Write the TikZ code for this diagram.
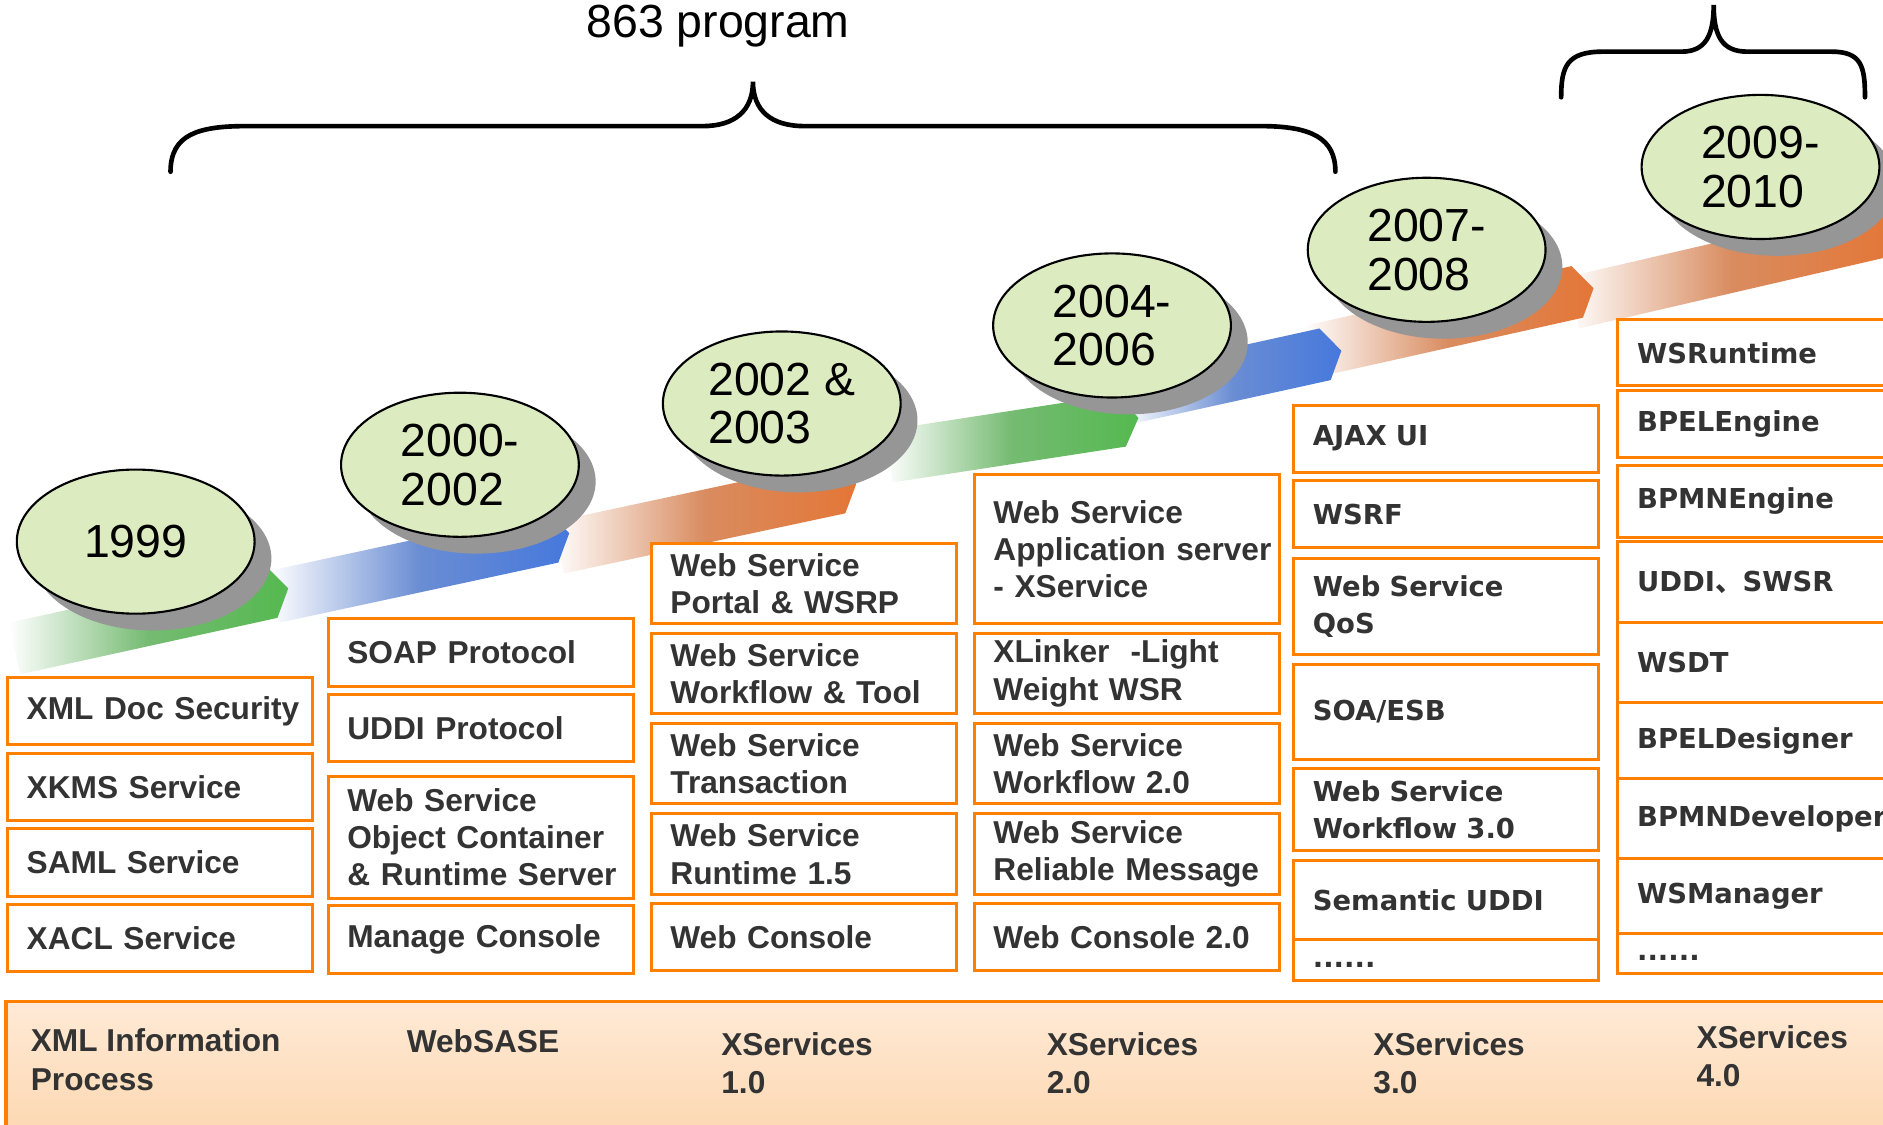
\documentclass[tikz,border=0pt]{standalone}
\usepackage{fontspec}
\setmainfont{Liberation Sans}
\newfontfamily\verdanafont{DejaVu Sans}
\newfontfamily\cjkfont{Noto Sans CJK SC}
\usepackage{tikz}
\usetikzlibrary{
    positioning,
    calc,
    shapes.geometric,
    shadows
}
\definecolor{boxOrange}{RGB}{255, 128, 0}
\definecolor{textGray}{RGB}{51, 51, 51}
\definecolor{yearGreen}{RGB}{221, 235, 192}
\definecolor{shadowGray}{RGB}{150, 150, 150}
\definecolor{ribGreen}{RGB}{85, 185, 80}
\definecolor{ribBlue}{RGB}{70, 120, 220}
\definecolor{ribOrange}{RGB}{228, 118, 55}
\definecolor{bandTop}{RGB}{255, 234, 214}
\definecolor{bandBottom}{RGB}{252, 213, 172}

% one piece of the timeline ribbon: start, tip, colour
\newcommand{\ribbon}[5]{%
    \coordinate (rs) at (#1,#2);
    \coordinate (rt) at (#3,#4);
    \coordinate (rb) at ($(rt)!1.4mm!(rs)$);
    \shade[left color=white, right color=#5, middle color=#5!70!lightgray]
        ($(rs)!2.2mm!90:(rt)$) -- ($(rb)!2.2mm!90:(rt)$) -- (rt)
        -- ($(rb)!2.2mm!-90:(rt)$) -- ($(rs)!2.2mm!-90:(rt)$) -- cycle;}

\begin{document}
\begin{tikzpicture}[x=0.1mm, y=-0.1mm,
    itembox/.style={draw=boxOrange, line width=0.25mm, fill=white, anchor=north west,
        align=left, inner xsep=1.6mm, inner ysep=0pt, text width=22.2mm,
        text=textGray, font=\bfseries\fontsize{7.5}{8.8}\selectfont,
        execute at begin node={\hyphenpenalty=10000}},
    widebox/.style={itembox, font=\verdanafont\bfseries\fontsize{6.5}{8.8}\selectfont},
    year/.style={ellipse, draw=black, line width=0.5pt, fill=yearGreen,
        minimum width=19.8mm, minimum height=12mm, inner sep=0pt, align=left,
        font=\fontsize{11}{11.5}\selectfont,
        drop shadow={shadow xshift=1.4mm, shadow yshift=-1.4mm, fill=shadowGray, opacity=1}},
    bandtext/.style={anchor=north west, inner sep=0pt, align=left, text=textGray,
        font=\bfseries\fontsize{7.5}{9.1}\selectfont},
    bracepath/.style={line width=1.1pt, line cap=round}
]
    \useasboundingbox (0,0) rectangle (1568,936);
    \clip (0,0) rectangle (1568,936);

    % Bottom band
    \shade[top color=bandTop, bottom color=bandBottom] (5,834) rectangle (1600,960);
    \draw[boxOrange, line width=0.3mm] (5,960) -- (5,834) -- (1600,834);

    % Ribbon, last piece first
    \ribbon{1310}{252}{1578}{190}{ribOrange}
    \ribbon{1090}{293}{1327}{240}{ribOrange}
    \ribbon{940}{331}{1117}{292}{ribBlue}
    \ribbon{740}{380}{948}{348}{ribGreen}
    \ribbon{465}{456}{713}{403}{ribOrange}
    \ribbon{228}{497}{474}{444}{ribBlue}
    \ribbon{12}{540}{240}{490}{ribGreen}

    % Years
    \node[year] (y1999) at (113,451) {1999};
    \node[year] (y2000) at (383,387) {2000-\\2002};
    \node[year] (y2002) at (651,336) {2002 \&\\2003};
    \node[year] (y2004) at (926,271) {2004-\\2006};
    \node[year] (y2007) at (1188,208) {2007-\\2008};
    \node[year] (y2009) at (1466,139) {2009-\\2010};

    % XML Information Process
    \node[itembox, minimum height=5.6mm] (xmlsec) at (5,563) {XML~Doc~Security};
    \node[itembox, minimum height=5.6mm] (xkms) at (5,626) {XKMS~Service};
    \node[itembox, minimum height=5.6mm] (saml) at (5,689) {SAML~Service};
    \node[itembox, minimum height=5.6mm] (xacl) at (5,752) {XACL~Service};

    % WebSASE
    \node[itembox, minimum height=5.6mm] (soap) at (272,514) {SOAP~Protocol};
    \node[itembox, minimum height=5.6mm] (uddi) at (272,577) {UDDI~Protocol};
    \node[itembox, minimum height=10.2mm] (objcont) at (272,645) {Web~Service\\Object~Container\\\&~Runtime~Server};
    \node[itembox, minimum height=5.6mm] (mgrcon) at (272,753) {Manage~Console};

    % XServices 1.0
    \node[itembox, minimum height=6.7mm] (portal) at (541,451) {Web~Service\\Portal~\&~WSRP};
    \node[itembox, minimum height=6.7mm] (wflow) at (541,526) {Web~Service\\Workflow~\&~Tool};
    \node[itembox, minimum height=6.7mm] (trans) at (541,601) {Web~Service\\Transaction};
    \node[itembox, minimum height=6.8mm] (runtime) at (541,676) {Web~Service\\Runtime~1.5};
    \node[itembox, minimum height=5.6mm] (webcon) at (541,751) {Web~Console};

    % XServices 2.0
    \node[itembox, minimum height=12.4mm] (appsrv) at (810,394) {Web~Service\\Application~server\\-~XService};
    \node[itembox, minimum height=6.7mm] (xlinker) at (810,526) {XLinker~~-Light\\Weight~WSR};
    \node[itembox, minimum height=6.7mm] (wflowtwo) at (810,601) {Web~Service\\Workflow~2.0};
    \node[itembox, minimum height=6.8mm] (relmsg) at (810,676) {Web~Service\\Reliable~Message};
    \node[itembox, minimum height=5.6mm] (webcontwo) at (810,751) {Web~Console~2.0};

    % XServices 3.0
    \node[widebox, minimum height=5.6mm] (ajax) at (1076,336) {AJAX~UI};
    \node[widebox, minimum height=5.6mm] (wsrf) at (1076,399) {WSRF};
    \node[widebox, minimum height=8.0mm] (qos) at (1076,464) {Web~Service\\QoS};
    \node[widebox, minimum height=7.9mm] (soaesb) at (1076,552) {SOA/ESB};
    \node[widebox, minimum height=6.8mm] (wflowthree) at (1076,639) {Web~Service\\Workflow~3.0};
    \node[widebox, minimum height=6.6mm] (semuddi) at (1076,715) {Semantic~UDDI};
    \node[widebox, minimum height=3.4mm] (moreA) at (1076,781) {\strut......};

    % XServices 4.0
    \node[widebox, text width=22.8mm, minimum height=5.5mm] (wsrt) at (1346,265) {WSRuntime};
    \node[widebox, text width=22.8mm, minimum height=5.6mm] (bpeleng) at (1346,324) {BPELEngine};
    \node[widebox, text width=22.8mm, minimum height=6.0mm] (bpmneng) at (1346,386) {BPMNEngine};
    \node[widebox, text width=22.8mm, minimum height=6.7mm] (swsr) at (1346,450) {UDDI{\cjkfont 、}SWSR};
    \node[widebox, text width=22.8mm, minimum height=6.7mm] (wsdt) at (1346,517) {WSDT};
    \node[widebox, text width=22.8mm, minimum height=6.3mm] (bpeldes) at (1346,584) {BPELDesigner};
    \node[widebox, text width=22.8mm, minimum height=6.7mm] (bpmndev) at (1346,647) {BPMNDeveloper};
    \node[widebox, text width=22.8mm, minimum height=6.2mm] (wsman) at (1346,714) {WSManager};
    \node[widebox, text width=22.8mm, minimum height=3.3mm] (moreB) at (1346,776) {\strut......};

    % Product lines
    \node[bandtext] (xmlinfo) at (25,856) {XML Information\\Process};
    \node[bandtext] (websase) at (338,857) {WebSASE};
    \node[bandtext] (xsone) at (600,859) {XServices\\1.0};
    \node[bandtext] (xstwo) at (871,859) {XServices\\2.0};
    \node[bandtext] (xsthree) at (1143,859) {XServices\\3.0};
    \node[bandtext] (xsfour) at (1412,853) {XServices\\4.0};

    % Braces
    \draw[bracepath] (142,143) .. controls (142,112) and (165,105) .. (205,105) -- (585,105)
        .. controls (612,105) and (627,92) .. (627,68)
        .. controls (627,92) and (642,105) .. (670,105) -- (1050,105)
        .. controls (1092,105) and (1112,115) .. (1112,143);
    \draw[bracepath] (1300,81) .. controls (1300,55) and (1305,43) .. (1335,43) -- (1400,43)
        .. controls (1420,43) and (1427,30) .. (1427,4)
        .. controls (1427,30) and (1434,43) .. (1455,43) -- (1525,43)
        .. controls (1550,43) and (1553,55) .. (1553,81);
    \node[font=\fontsize{11}{13}\selectfont, anchor=base] (title) at (598,31) {863 program};
\end{tikzpicture}
\end{document}
